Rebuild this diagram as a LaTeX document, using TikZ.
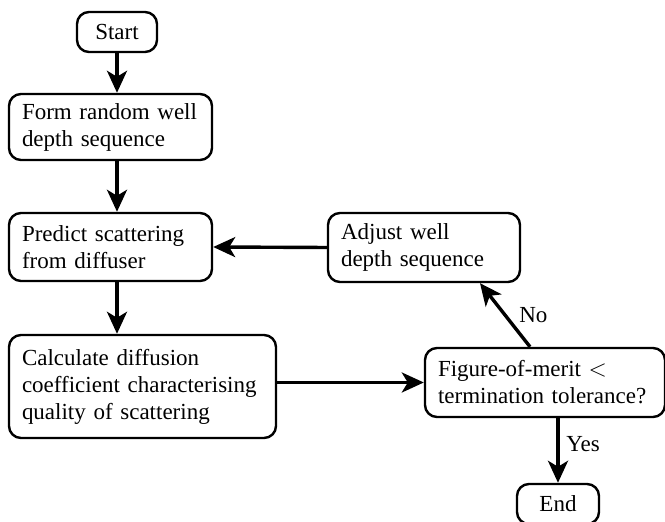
\documentclass[tikz,border=0pt]{standalone}
\usepackage{fontspec}
\setmainfont{Liberation Serif}
\usetikzlibrary{arrows.meta,calc}
\begin{document}
\begin{tikzpicture}[x=0.5pt,y=-0.5pt,
  blk/.style={draw,line width=1.2pt,rounded corners=6pt,align=left,inner xsep=6.5pt,inner ysep=0pt,font=\fontsize{11.5}{13.5}\selectfont},
  term/.style={blk,align=center,minimum width=40pt,minimum height=20pt},
  arr/.style={line width=1.7pt,-{Stealth[length=11pt,width=10pt,inset=3pt]}},
  lbl/.style={font=\fontsize{11.5}{13.5}\selectfont}]
\useasboundingbox (0,0) rectangle (665,522);
% boxes
\node[term] (start) at (117,32) {Start};
\node[blk,text width=88.5pt,minimum height=33pt] (form) at (110.5,127) {Form random well\\depth sequence};
\node[blk,text width=88.5pt,minimum height=34pt] (predict) at (110.5,247) {Predict scattering\\from diffuser};
\node[blk,text width=120.5pt,minimum height=51.5pt] (calc) at (142.5,386.5) {Calculate diffusion\\coefficient characterising\\quality of scattering};
\node[blk,text width=83pt,minimum height=34.5pt] (adjust) at (424,247.5) {Adjust well\\depth sequence};
\node[blk,text width=107pt,minimum height=34.5pt] (fom) at (545,382.5) {Figure-of-merit $<$\\termination tolerance?};
\node[term,minimum width=41pt] (end) at (558,504) {End};
% connectors
\draw[arr] (start) -- (start |- form.north);
\draw[arr] (form.south -| start) -- (predict.north -| start);
\draw[arr] (predict.south -| start) -- (calc.north -| start);
\draw[arr] (calc.east |- fom.west) -- (fom.west);
\draw[arr] ($(fom.north)+(-15,0)$) -- node[lbl,right,xshift=3pt]{No} ($(adjust.south)+(56,0)$);
\draw[arr] (adjust.west) -- (predict.east);
\draw[arr] (end.north |- fom.south) -- node[lbl,right,pos=0.4]{Yes} (end.north);
\end{tikzpicture}
\end{document}
